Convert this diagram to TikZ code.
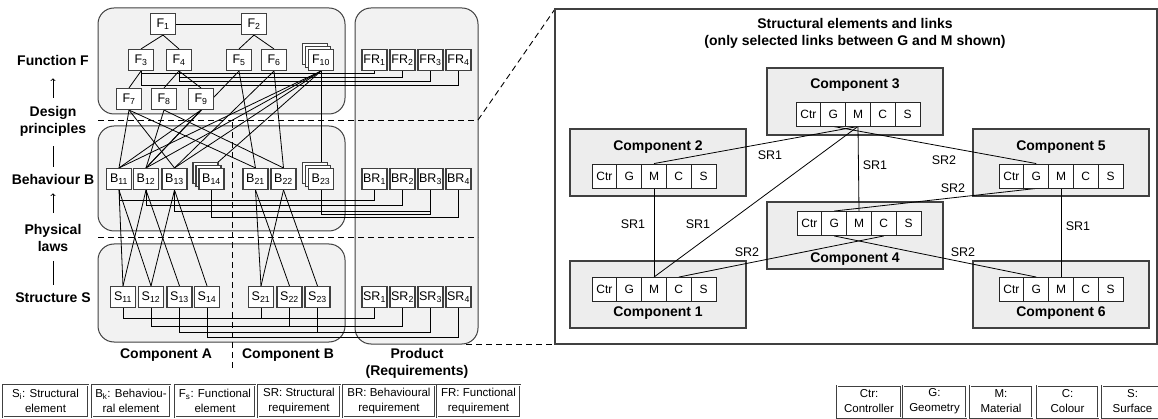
\documentclass[tikz,border=0pt]{standalone}
\usepackage{fontspec}
\setmainfont{Liberation Sans}
\usepackage{tikz}
\usetikzlibrary{arrows}
\usetikzlibrary{shadows}

\pgfdeclarelayer{back}
\pgfdeclarelayer{wires}
\pgfsetlayers{back,wires,main}

\begin{document}
\begin{tikzpicture}[x=1pt,y=-1pt,
    elem/.style={draw=black!75,line width=1.1pt,fill=white,inner sep=0pt,
      minimum width=25pt,minimum height=21pt,font=\fontsize{12.5}{14}\selectfont},
    stacked/.style={elem,double copy shadow={shadow xshift=-3pt,shadow yshift=3pt,
      draw=black!75,fill=white,line width=1.1pt}},
    zone/.style={draw=black!75,fill=black!5,line width=1pt,rounded corners=16pt},
    comp/.style={draw=black!75,fill=black!7,line width=1.1pt},
    cell/.style={draw=black!85,fill=white,line width=0.9pt,inner sep=0pt,
      minimum width=24.8pt,minimum height=24pt,font=\fontsize{12}{14}\selectfont},
    head/.style={font=\bfseries\fontsize{14}{17}\selectfont,align=center,inner sep=1pt},
    srtext/.style={font=\fontsize{12.5}{14}\selectfont},
    wire/.style={line width=0.8pt},
    splitline/.style={dash pattern=on 6pt off 4pt,line width=0.9pt},
    legbox/.style={draw=black!75,double,double distance=0.8pt,line width=0.6pt,
      align=center,inner sep=0pt,minimum height=32pt,font=\fontsize{11.5}{15}\selectfont}
  ]
  \useasboundingbox (0,0) rectangle (1158,419);

  % layer panels
  \begin{pgfonlayer}{back}
    \draw[zone] (98,8) rectangle (345,114);
    \draw[zone] (98,126) rectangle (345,231);
    \draw[zone] (98,244) rectangle (345,342);
    \draw[zone] (355,8) rectangle (478,344);
    \draw[splitline] (98,120) -- (478,120);
    \draw[splitline] (98,237) -- (478,237);
    \draw[splitline] (232,122) -- (232,368);
    % zoom lines
    \draw[splitline] (478,120) -- (555,9);
    \draw[splitline] (466,344) -- (555,344);
    % detail panel
    \draw[draw=black!75,line width=1.3pt,fill=white] (555,9) rectangle (1157,344);
  \end{pgfonlayer}

  % side labels
  \node[head] (funcF) at (53,61) {Function F};
  \node[head] (design) at (53,121) {Design\\principles};
  \node[head] (behB) at (53,179) {Behaviour B};
  \node[head] (phys) at (53,238) {Physical\\laws};
  \node[head] (strucS) at (53,298) {Structure S};
  \draw[wire,->,shorten <=7pt,shorten >=11pt] (design) -- (funcF);
  \draw[wire,shorten <=9pt,shorten >=6pt] (design) -- (behB);
  \draw[wire,->,shorten <=10pt,shorten >=8pt] (phys) -- (behB);
  \draw[wire,shorten <=8pt,shorten >=7pt] (phys) -- (strucS);

  % function elements
  \node[elem] (F1) at (163,24) {F\textsubscript{1}};
  \node[elem] (F2) at (254,24) {F\textsubscript{2}};
  \node[elem] (F3) at (141,60) {F\textsubscript{3}};
  \node[elem] (F4) at (179,60) {F\textsubscript{4}};
  \node[elem] (F5) at (239,60) {F\textsubscript{5}};
  \node[elem] (F6) at (274,60) {F\textsubscript{6}};
  \node[stacked] (F10) at (321,60) {F\textsubscript{10}};
  \node[elem] (F7) at (129,99) {F\textsubscript{7}};
  \node[elem] (F8) at (164,99) {F\textsubscript{8}};
  \node[elem] (F9) at (201,99) {F\textsubscript{9}};

  % behaviour elements
  \node[elem] (B11) at (119,179) {B\textsubscript{11}};
  \node[elem] (B12) at (146,179) {B\textsubscript{12}};
  \node[elem] (B13) at (174.5,179) {B\textsubscript{13}};
  \node[stacked] (B14) at (211.5,179) {B\textsubscript{14}};
  \node[elem] (B21) at (255.5,179) {B\textsubscript{21}};
  \node[elem] (B22) at (283.5,179) {B\textsubscript{22}};
  \node[stacked] (B23) at (321,179) {B\textsubscript{23}};

  % structure elements
  \node[elem] (S11) at (123,297) {S\textsubscript{11}};
  \node[elem] (S12) at (151,297) {S\textsubscript{12}};
  \node[elem] (S13) at (179.5,297) {S\textsubscript{13}};
  \node[elem] (S14) at (207,297) {S\textsubscript{14}};
  \node[elem] (S21) at (261,297) {S\textsubscript{21}};
  \node[elem] (S22) at (289.5,297) {S\textsubscript{22}};
  \node[elem] (S23) at (317.5,297) {S\textsubscript{23}};

  % requirements
  \foreach \i/\x in {1/374.5,2/402.5,3/430.5,4/458.5} {
    \node[elem] (FR\i) at (\x,60) {FR\textsubscript{\i}};
    \node[elem] (BR\i) at (\x,179) {BR\textsubscript{\i}};
    \node[elem] (SR\i) at (\x,297) {SR\textsubscript{\i}};
  }

  \begin{pgfonlayer}{wires}
    % function tree
    \draw[wire] (F1) -- (F2);
    \draw[wire] (F1.south) -- (F3.north);
    \draw[wire] (F1.south) -- (F4.north);
    \draw[wire] (F2.south) -- (F5.north);
    \draw[wire] (F2.south) -- (F6.north);
    \draw[wire] (F3.south) -- (F7.north);
    \draw[wire] (F4.south) -- (F8.north);
    \draw[wire] (F4.south) -- (F9.north);
    % F to FR
    \draw[wire] (F3.south) -- ++(0,2.5) -| (FR1.south);
    \draw[wire] (F4.south) -- ++(0,6.5) -| (FR2.south);
    \draw[wire] (F4.south) -- ++(0,10.5) -| (FR3.south);
    \draw[wire] (F3.south) -- ++(0,14.5) -| (FR4.south);
    % design principles
    \foreach \a/\b in {F7/B11,F7/B13,F7/B21,F8/B12,F8/B22,F9/B11,F9/B12,
        F5/B12,F5/B21,F6/B13,F6/B22,F10/B11,F10/B12,F10/B13,F10/B14}
      \draw[wire] (\a.south) -- (\b.north);
    \draw[wire] (F10) -- (B23);
    % B to BR
    \draw[wire] (B11.south) -- ++(0,10.5) -| (BR1.south);
    \draw[wire] (B12.south) -- ++(0,15.5) -| (BR2.south);
    \draw[wire] (B13.south) -- ++(0,21) -| (BR3.south);
    \draw[wire] (B23.south) -- ++(0,24) -| (BR3.south);
    \draw[wire] (B14.south) -- ++(0,27) -| (BR4.south);
    % physical laws
    \foreach \a/\b in {B11/S11,B11/S12,B12/S11,B12/S13,B13/S12,B13/S14,
        B21/S21,B21/S22,B22/S21,B22/S23}
      \draw[wire] (\a.south) -- (\b.north);
    % S to SR
    \draw[wire] (S11.south) -- ++(0,10.5) -| (SR1.south);
    \draw[wire] (S21.south) -- ++(0,10.5) -| (SR1.south);
    \draw[wire] (S12.south) -- ++(0,18.5) -| (SR2.south);
    \draw[wire] (S22.south) -- ++(0,18.5) -| (SR2.south);
    \draw[wire] (S13.south) -- ++(0,24) -| (SR3.south);
    \draw[wire] (S23.south) -- ++(0,24) -| (SR3.south);
    \draw[wire] (S14.south) -- ++(0,29.5) -| (SR4.south);
  \end{pgfonlayer}

  % bottom labels
  \node[head] (compA) at (166,355) {Component A};
  \node[head] (compB) at (288,355) {Component B};
  \node[head] (prod) at (417,363) {Product\\(Requirements)};

  % structural detail
  \node[head] (title) at (855,33) {Structural elements and links\\(only selected links between G and M shown)};
  \foreach \n/\bx/\by/\cx/\cy/\ty in {1/570/261/592/289.5/313,2/570/129/592/176/147,
      3/767/68/796/114/85,4/767/202/797/223.5/259,5/973/129/999/176/147,6/973/261/999/289.5/313} {
    \begin{pgfonlayer}{back}
      \draw[comp] (\bx,\by) rectangle ++(176,67);
    \end{pgfonlayer}
    \node[head] (comp\n) at (\bx+88,\ty) {Component \n};
    \foreach \k [count=\j from 0] in {Ctr,G,M,C,S}
      \node[cell] (c\n-\k) at (\cx+12.4+24.8*\j,\cy) {\k};
  }

  \begin{pgfonlayer}{wires}
    \draw[wire] (c2-M.north) -- (c3-M.south);
    \draw[wire] (c3-M.south) -- (c4-M.north);
    \draw[wire] (c3-G.south) -- (c5-G.north);
    \draw[wire] (c3-M.south) -- (c1-M.north);
    \draw[wire] (c2-M.south) -- (c1-M.north);
    \draw[wire] (c4-G.north) -- (c5-G.south);
    \draw[wire] (c1-C.north) -- (c4-C.south);
    \draw[wire] (c4-G.south) -- (c6-G.north);
    \draw[wire] (c5-M.south) -- (c6-M.north);
  \end{pgfonlayer}
  \node[srtext] (l23) at (770,155) {SR1};
  \node[srtext] (l34) at (875,165) {SR1};
  \node[srtext] (l35) at (944,160) {SR2};
  \node[srtext] (l45) at (953,188) {SR2};
  \node[srtext] (l31) at (698,224) {SR1};
  \node[srtext] (l21) at (633,224) {SR1};
  \node[srtext] (l14) at (747,252) {SR2};
  \node[srtext] (l46) at (963,252) {SR2};
  \node[srtext] (l56) at (1078,226) {SR1};

  % legends
  \node[legbox,minimum width=85pt] (leg1) at (45.5,401) {S\textsubscript{i}: Structural\\element};
  \node[legbox,minimum width=78pt] (leg2) at (131,401) {B\textsubscript{k}: Behaviou-\\ral element};
  \node[legbox,minimum width=80pt] (leg3) at (215,401) {F\textsubscript{s}: Functional\\element};
  \node[legbox,minimum width=82pt] (leg4) at (299,401) {SR: Structural\\requirement};
  \node[legbox,minimum width=92pt] (leg5) at (389,401) {BR: Behavioural\\requirement};
  \node[legbox,minimum width=83pt] (leg6) at (478.5,401) {FR: Functional\\requirement};
  \node[legbox,minimum width=64pt] (legCtr) at (869,401.5) {Ctr:\\Controller};
  \node[legbox,minimum width=63pt] (legG) at (934.5,401.5) {G:\\Geometry};
  \node[legbox,minimum width=62pt] (legM) at (1001,401.5) {M:\\Material};
  \node[legbox,minimum width=61pt] (legC) at (1067.5,401.5) {C:\\Colour};
  \node[legbox,minimum width=61pt] (legS) at (1132.5,401.5) {S:\\Surface};
\end{tikzpicture}
\end{document}
